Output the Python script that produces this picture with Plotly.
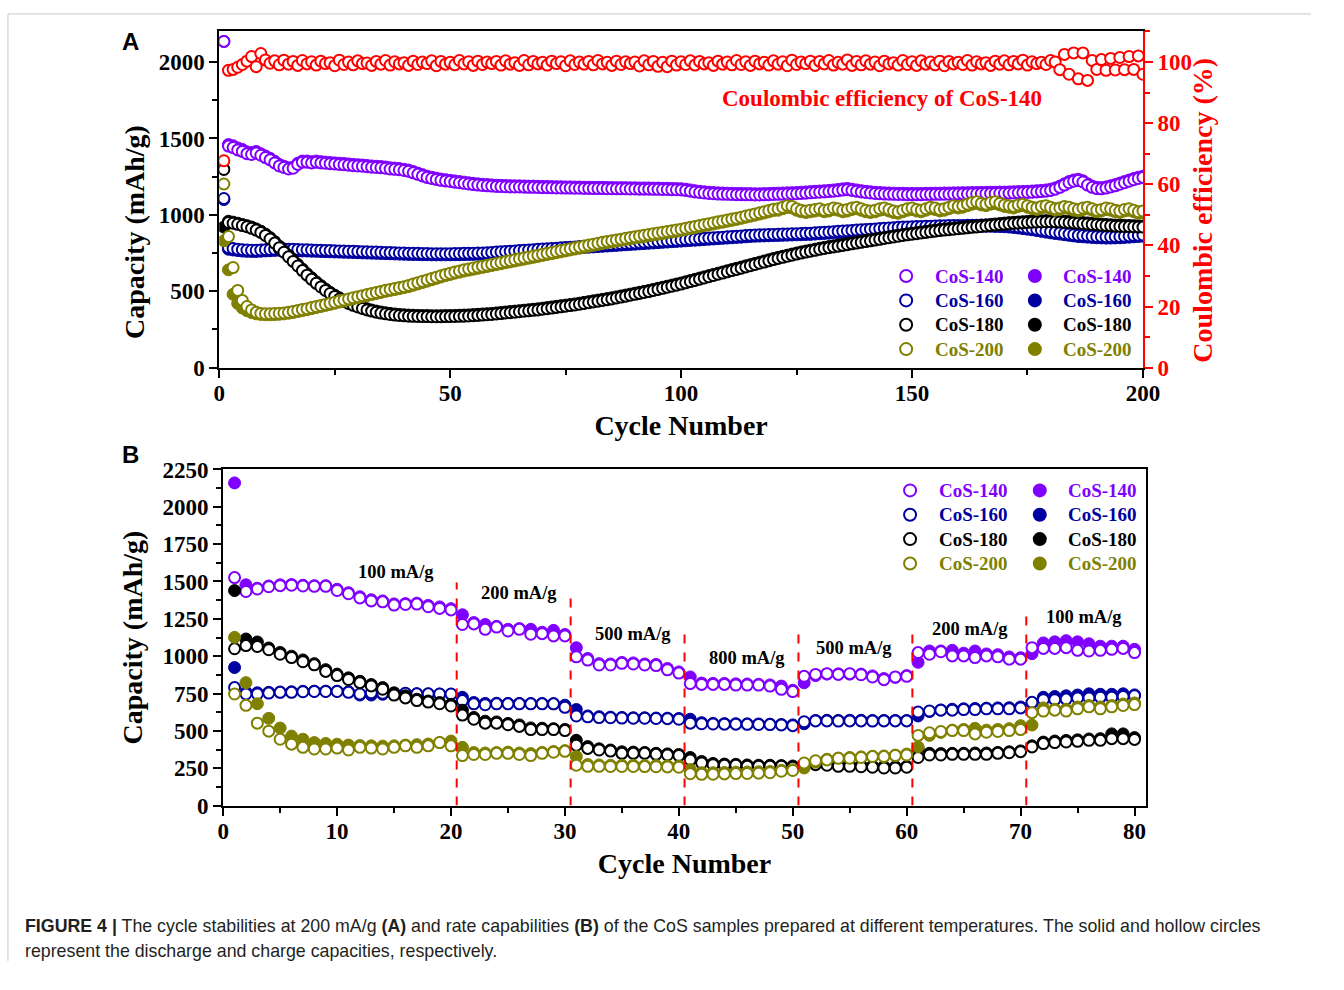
import plotly.graph_objects as go

# ---------------- Panel A data (cycling at 200 mA/g) ----------------
A_cycles = list(range(1, 201))

A_140_charge = [
    2135, 1450, 1440, 1425, 1415, 1400, 1395, 1405, 1390, 1375,
    1360, 1340, 1320, 1310, 1300, 1305, 1330, 1345, 1345, 1340,
    1345, 1340, 1338, 1335, 1333, 1330, 1328, 1325, 1322, 1320,
    1318, 1315, 1312, 1310, 1308, 1305, 1300, 1298, 1295, 1290,
    1285, 1275, 1265, 1255, 1245, 1238, 1232, 1226, 1222, 1218,
    1214, 1210, 1206, 1202, 1198, 1195, 1192, 1190, 1188, 1186,
    1185, 1184, 1183, 1182, 1182, 1181, 1180, 1180, 1179, 1178,
    1178, 1177, 1176, 1176, 1175, 1175, 1174, 1174, 1173, 1173,
    1172, 1172, 1172, 1171, 1171, 1170, 1170, 1170, 1169, 1169,
    1168, 1168, 1168, 1167, 1167, 1166, 1166, 1165, 1164, 1163,
    1160, 1155, 1150, 1146, 1143, 1140, 1138, 1136, 1135, 1134,
    1133, 1132, 1132, 1131, 1131, 1130, 1130, 1131, 1132, 1133,
    1134, 1135, 1136, 1137, 1138, 1140, 1142, 1144, 1146, 1148,
    1150, 1152, 1155, 1158, 1162, 1165, 1160, 1155, 1150, 1146,
    1143, 1140, 1138, 1136, 1135, 1134, 1133, 1133, 1132, 1132,
    1132, 1132, 1133, 1133, 1134, 1134, 1135, 1135, 1136, 1136,
    1137, 1137, 1138, 1138, 1139, 1139, 1140, 1140, 1141, 1141,
    1142, 1143, 1144, 1145, 1146, 1148, 1150, 1152, 1155, 1160,
    1168, 1180, 1195, 1210, 1220, 1225, 1215, 1195, 1180, 1172,
    1170, 1175, 1182, 1190, 1200, 1210, 1220, 1230, 1238, 1245]
A_140_discharge = [
    2135, 1460, 1452, 1438, 1428, 1412, 1408, 1415, 1400, 1385,
    1370, 1350, 1330, 1318, 1308, 1312, 1338, 1352, 1352, 1348,
    1352, 1348, 1345, 1342, 1340, 1338, 1336, 1333, 1330, 1328,
    1326, 1323, 1320, 1318, 1316, 1313, 1308, 1306, 1303, 1298,
    1293, 1283, 1273, 1263, 1253, 1246, 1240, 1234, 1230, 1226,
    1222, 1218, 1214, 1210, 1206, 1203, 1200, 1198, 1196, 1194,
    1193, 1192, 1191, 1190, 1190, 1189, 1188, 1188, 1187, 1186,
    1186, 1185, 1184, 1184, 1183, 1183, 1182, 1182, 1181, 1181,
    1180, 1180, 1180, 1179, 1179, 1178, 1178, 1178, 1177, 1177,
    1176, 1176, 1176, 1175, 1175, 1174, 1174, 1173, 1172, 1171,
    1168, 1163, 1158, 1154, 1151, 1148, 1146, 1144, 1143, 1142,
    1141, 1140, 1140, 1139, 1139, 1138, 1138, 1139, 1140, 1141,
    1142, 1143, 1144, 1145, 1146, 1148, 1150, 1152, 1154, 1156,
    1158, 1160, 1163, 1166, 1170, 1173, 1168, 1163, 1158, 1154,
    1151, 1148, 1146, 1144, 1143, 1142, 1141, 1141, 1140, 1140,
    1140, 1140, 1141, 1141, 1142, 1142, 1143, 1143, 1144, 1144,
    1145, 1145, 1146, 1146, 1147, 1147, 1148, 1148, 1149, 1149,
    1150, 1151, 1152, 1153, 1154, 1156, 1158, 1160, 1163, 1168,
    1176, 1188, 1203, 1218, 1228, 1233, 1223, 1203, 1188, 1180,
    1178, 1183, 1190, 1198, 1208, 1218, 1228, 1238, 1246, 1253]

A_160_charge = [
    1107, 785, 780, 775, 772, 770, 768, 768, 770, 772,
    773, 775, 776, 776, 775, 774, 773, 772, 771, 770,
    769, 768, 767, 766, 765, 764, 763, 762, 761, 760,
    759, 758, 757, 756, 755, 754, 753, 752, 751, 750,
    749, 748, 748, 747, 747, 746, 746, 746, 746, 746,
    747, 747, 748, 748, 749, 750, 751, 752, 754, 756,
    758, 760, 762, 764, 766, 768, 770, 772, 774, 776,
    778, 780, 782, 784, 786, 788, 790, 792, 794, 796,
    798, 800, 802, 804, 806, 808, 810, 812, 814, 816,
    818, 820, 822, 824, 826, 828, 830, 832, 834, 836,
    838, 840, 842, 844, 846, 848, 850, 852, 854, 856,
    858, 860, 862, 864, 866, 868, 869, 870, 871, 872,
    873, 874, 875, 876, 877, 878, 879, 880, 882, 884,
    886, 888, 890, 892, 894, 896, 898, 900, 902, 904,
    906, 908, 910, 912, 914, 916, 918, 920, 921, 922,
    923, 924, 925, 926, 927, 928, 929, 930, 930, 931,
    931, 932, 932, 932, 933, 933, 933, 932, 931, 930,
    928, 925, 922, 918, 914, 910, 905, 900, 895, 890,
    886, 882, 878, 874, 870, 866, 864, 862, 860, 858,
    857, 856, 856, 857, 858, 860, 862, 864, 866, 868]
A_160_discharge = [
    1100, 775, 770, 766, 763, 761, 760, 760, 762, 764,
    765, 767, 768, 768, 767, 766, 765, 764, 763, 762,
    761, 760, 759, 758, 757, 756, 755, 754, 753, 752,
    751, 750, 749, 748, 747, 746, 745, 744, 743, 742,
    741, 740, 740, 739, 739, 738, 738, 738, 738, 738,
    739, 739, 740, 740, 741, 742, 743, 744, 746, 748,
    750, 752, 754, 756, 758, 760, 762, 764, 766, 768,
    770, 772, 774, 776, 778, 780, 782, 784, 786, 788,
    790, 792, 794, 796, 798, 800, 802, 804, 806, 808,
    810, 812, 814, 816, 818, 820, 822, 824, 826, 828,
    830, 832, 834, 836, 838, 840, 842, 844, 846, 848,
    850, 852, 854, 856, 858, 860, 861, 862, 863, 864,
    865, 866, 867, 868, 869, 870, 871, 872, 874, 876,
    878, 880, 882, 884, 886, 888, 890, 892, 894, 896,
    898, 900, 902, 904, 906, 908, 910, 912, 913, 914,
    915, 916, 917, 918, 919, 920, 921, 922, 922, 923,
    923, 924, 924, 924, 925, 925, 925, 924, 923, 922,
    920, 917, 914, 910, 906, 902, 897, 892, 887, 882,
    878, 874, 870, 866, 862, 858, 856, 854, 852, 850,
    849, 848, 848, 849, 850, 852, 854, 856, 858, 860]

A_180_charge = [
    1297, 950, 945, 938, 930, 922, 912, 900, 885, 865,
    842, 815, 785, 755, 725, 695, 665, 635, 605, 578,
    552, 528, 505, 485, 466, 449, 434, 420, 408, 397,
    387, 378, 370, 363, 357, 352, 348, 344, 341, 339,
    337, 336, 335, 334, 334, 333, 333, 333, 334, 334,
    335, 336, 337, 338, 340, 342, 344, 346, 348, 351,
    354, 357, 360, 363, 366, 369, 372, 375, 378, 382,
    386, 390, 394, 398, 402, 406, 410, 415, 420, 425,
    430, 435, 440, 445, 450, 456, 462, 468, 474, 480,
    486, 492, 498, 505, 512, 519, 526, 533, 540, 547,
    555, 563, 571, 579, 587, 595, 603, 611, 619, 627,
    635, 643, 651, 659, 667, 675, 683, 691, 699, 707,
    715, 722, 729, 736, 743, 750, 756, 762, 768, 774,
    780, 785, 790, 795, 800, 805, 810, 815, 820, 825,
    830, 835, 840, 845, 850, 855, 860, 865, 869, 873,
    877, 881, 885, 889, 893, 897, 900, 903, 906, 909,
    912, 915, 918, 921, 924, 927, 930, 933, 936, 939,
    942, 944, 946, 948, 950, 952, 953, 954, 955, 955,
    954, 953, 951, 949, 947, 945, 942, 940, 937, 935,
    932, 930, 928, 926, 925, 924, 923, 922, 921, 920]
A_180_discharge = [
    920, 958, 952, 945, 937, 929, 920, 908, 893, 874,
    851, 825, 795, 765, 735, 705, 675, 645, 615, 588,
    561, 537, 514, 493, 474, 457, 441, 427, 415, 404,
    394, 385, 377, 370, 364, 359, 355, 351, 348, 346,
    344, 343, 342, 341, 341, 340, 340, 340, 341, 341,
    342, 343, 344, 345, 347, 349, 351, 353, 355, 358,
    361, 364, 367, 370, 373, 376, 379, 382, 385, 389,
    393, 397, 401, 405, 409, 413, 417, 422, 427, 432,
    437, 442, 447, 452, 457, 463, 469, 475, 481, 487,
    493, 499, 505, 512, 519, 526, 533, 540, 547, 554,
    562, 570, 578, 586, 594, 602, 610, 618, 626, 634,
    642, 650, 658, 666, 674, 682, 690, 698, 706, 714,
    722, 729, 736, 743, 750, 757, 763, 769, 775, 781,
    787, 792, 797, 802, 807, 812, 817, 822, 827, 832,
    837, 842, 847, 852, 857, 862, 867, 872, 876, 880,
    884, 888, 892, 896, 900, 904, 907, 910, 913, 916,
    919, 922, 925, 928, 931, 934, 937, 940, 943, 946,
    949, 951, 953, 955, 957, 959, 960, 961, 962, 962,
    961, 960, 958, 956, 954, 952, 949, 947, 944, 942,
    939, 937, 935, 933, 932, 931, 930, 929, 928, 927]

A_200_charge = [
    1202, 858, 655, 505, 440, 400, 378, 362, 355, 352,
    352, 354, 356, 358, 362, 368, 374, 380, 386, 393,
    400, 407, 414, 421, 428, 436, 443, 450, 457, 464,
    471, 478, 485, 492, 499, 506, 512, 518, 524, 530,
    538, 547, 556, 565, 574, 583, 592, 601, 610, 618,
    626, 633, 640, 646, 652, 658, 664, 670, 676, 682,
    688, 694, 700, 706, 712, 718, 724, 730, 736, 742,
    748, 754, 760, 766, 772, 778, 784, 790, 796, 802,
    808, 814, 820, 826, 831, 836, 841, 846, 851, 856,
    861, 866, 871, 876, 881, 886, 891, 896, 901, 906,
    912, 918, 924, 930, 936, 942, 948, 954, 960, 966,
    972, 978, 985, 992, 999, 1006, 1013, 1020, 1028, 1036,
    1040, 1050, 1060, 1055, 1040, 1030, 1025, 1030, 1035, 1040,
    1030, 1035, 1045, 1040, 1030, 1035, 1045, 1050, 1040, 1030,
    1025, 1030, 1040, 1045, 1035, 1025, 1020, 1030, 1040, 1045,
    1035, 1030, 1040, 1050, 1045, 1035, 1040, 1050, 1060, 1055,
    1060, 1070, 1080, 1085, 1075, 1070, 1080, 1085, 1075, 1065,
    1060, 1055, 1065, 1070, 1060, 1050, 1045, 1055, 1060, 1050,
    1040, 1045, 1055, 1050, 1040, 1035, 1045, 1050, 1040, 1030,
    1035, 1045, 1040, 1030, 1025, 1035, 1040, 1030, 1020, 1025]
A_200_discharge = [
    830, 640, 480, 420, 390, 372, 360, 352, 348, 346,
    346, 347, 349, 352, 356, 361, 367, 373, 379, 386,
    393, 400, 407, 414, 421, 429, 436, 443, 450, 457,
    464, 471, 478, 485, 492, 499, 505, 511, 517, 523,
    530, 539, 548, 557, 566, 575, 584, 593, 602, 610,
    618, 625, 632, 638, 644, 650, 656, 662, 668, 674,
    680, 686, 692, 698, 704, 710, 716, 722, 728, 734,
    740, 746, 752, 758, 764, 770, 776, 782, 788, 794,
    800, 806, 812, 818, 823, 828, 833, 838, 843, 848,
    853, 858, 863, 868, 873, 878, 883, 888, 893, 898,
    904, 910, 916, 922, 928, 934, 940, 946, 952, 958,
    964, 970, 977, 984, 991, 998, 1005, 1012, 1020, 1028,
    1030, 1040, 1048, 1045, 1030, 1020, 1015, 1020, 1025, 1030,
    1020, 1025, 1035, 1030, 1020, 1025, 1035, 1040, 1030, 1020,
    1015, 1020, 1030, 1035, 1025, 1015, 1010, 1020, 1030, 1035,
    1025, 1020, 1030, 1040, 1035, 1025, 1030, 1040, 1050, 1045,
    1050, 1060, 1070, 1075, 1065, 1060, 1070, 1075, 1065, 1055,
    1050, 1045, 1055, 1060, 1050, 1040, 1035, 1045, 1050, 1040,
    1030, 1035, 1045, 1040, 1030, 1025, 1035, 1040, 1030, 1020,
    1025, 1035, 1030, 1020, 1015, 1025, 1030, 1020, 1010, 1015]

A_140_CE = [
    67.7, 97.3, 97.6, 98.3, 99.2, 100.3, 101.8, 98.5, 102.8, 100.7,
    99.6, 100.4, 99.1, 100.6, 99.3, 100.2, 98.9, 100.5, 99.4, 100.1,
    99.0, 100.3, 99.5, 99.8, 98.8, 100.6, 99.2, 100.0, 99.1, 100.4,
    99.5, 99.7, 98.9, 100.2, 99.3, 100.5, 99.0, 100.1, 99.4, 99.8,
    98.9, 100.3, 99.2, 100.0, 99.5, 100.4, 98.8, 100.2, 99.3, 99.9,
    99.1, 100.5, 99.4, 100.1, 98.9, 100.3, 99.2, 100.0, 99.5, 100.2,
    99.0, 100.4, 99.3, 99.8, 98.9, 100.5, 99.1, 100.2, 99.4, 99.9,
    99.0, 100.3, 99.5, 100.1, 98.8, 100.4, 99.2, 100.0, 99.3, 100.2,
    99.1, 100.5, 99.4, 99.9, 98.9, 100.3, 99.2, 100.1, 99.5, 100.0,
    98.7, 100.4, 99.1, 100.2, 98.6, 99.9, 98.5, 100.3, 99.0, 100.1,
    99.2, 100.4, 99.0, 100.2, 99.4, 99.8, 98.9, 100.3, 99.3, 100.0,
    99.1, 100.5, 99.2, 100.1, 98.9, 100.3, 99.4, 99.9, 99.0, 100.4,
    99.3, 100.1, 98.8, 100.6, 99.2, 100.0, 99.5, 100.3, 98.9, 100.2,
    99.4, 100.5, 99.0, 99.9, 99.3, 100.7, 98.9, 100.2, 99.1, 100.4,
    99.3, 100.0, 98.8, 100.3, 99.4, 99.8, 99.0, 100.5, 99.2, 100.1,
    98.9, 100.4, 99.3, 100.0, 99.1, 100.3, 98.8, 100.2, 99.4, 99.9,
    99.2, 100.5, 99.0, 100.1, 99.4, 99.8, 98.9, 100.3, 99.3, 100.4,
    99.1, 100.2, 99.4, 100.6, 99.0, 100.1, 99.5, 99.9, 99.2, 100.5,
    100.0, 97.5, 102.5, 96.0, 103.0, 94.5, 103.0, 94.0, 100.5, 97.6,
    100.8, 97.3, 101.2, 97.4, 101.5, 97.5, 101.8, 97.6, 102.0, 96.0]

# ---------------- Panel B data (rate capability) ----------------
B_cycles = list(range(1, 81))

B_140_charge = [
    1526, 1433, 1450, 1465, 1472, 1475, 1470, 1468, 1468, 1440,
    1418, 1390, 1370, 1364, 1342, 1346, 1349, 1331, 1320, 1310,
    1212, 1216, 1180, 1195, 1169, 1180, 1147, 1151, 1136, 1136,
    996, 974, 941, 941, 952, 948, 941, 937, 909, 887,
    817, 811, 811, 811, 807, 807, 807, 800, 778, 763,
    865, 878, 883, 878, 883, 876, 861, 843, 861, 865,
    1024, 1013, 1030, 1002, 1002, 991, 1002, 996, 980, 980,
    1057, 1052, 1052, 1057, 1039, 1035, 1039, 1046, 1052, 1024]
B_140_discharge = [
    2160, 1478, 1455, 1470, 1478, 1480, 1475, 1472, 1472, 1448,
    1425, 1398, 1378, 1370, 1350, 1352, 1355, 1340, 1330, 1318,
    1277, 1225, 1212, 1200, 1180, 1185, 1180, 1160, 1173, 1145,
    1057, 985, 950, 948, 958, 955, 948, 945, 918, 895,
    861, 820, 818, 818, 815, 814, 812, 808, 800, 772,
    822, 870, 880, 882, 880, 880, 868, 850, 858, 870,
    959, 1035, 1035, 1039, 1020, 1035, 1015, 1010, 995, 990,
    1017, 1089, 1096, 1104, 1096, 1083, 1067, 1067, 1067, 1046]

B_160_charge = [
    790, 747, 747, 753, 758, 758, 762, 764, 764, 764,
    758, 747, 755, 752, 750, 752, 748, 748, 747, 747,
    703, 681, 675, 681, 681, 681, 681, 681, 681, 658,
    600, 594, 589, 588, 586, 585, 585, 583, 582, 578,
    552, 548, 546, 545, 545, 544, 543, 542, 540, 535,
    561, 567, 567, 566, 567, 567, 566, 567, 567, 567,
    626, 633, 639, 639, 643, 643, 648, 648, 648, 654,
    691, 709, 709, 713, 720, 720, 726, 726, 730, 735]
B_160_discharge = [
    924, 760, 755, 758, 760, 762, 765, 766, 766, 766,
    762, 740, 740, 745, 748, 750, 748, 747, 746, 745,
    725, 690, 684, 685, 684, 684, 683, 683, 682, 672,
    643, 600, 595, 592, 590, 588, 588, 586, 585, 583,
    578, 555, 550, 549, 548, 547, 546, 545, 543, 540,
    548, 570, 571, 570, 571, 571, 570, 570, 570, 570,
    600, 630, 640, 645, 648, 650, 652, 654, 655, 660,
    687, 725, 730, 735, 740, 748, 745, 745, 748, 741]

B_180_charge = [
    1050, 1071, 1065, 1043, 1013, 991, 963, 942, 898, 870,
    844, 823, 801, 779, 740, 721, 703, 693, 682, 667,
    606, 578, 552, 552, 541, 530, 509, 509, 509, 502,
    404, 383, 372, 365, 350, 350, 350, 343, 339, 335,
    306, 285, 274, 270, 270, 263, 263, 263, 263, 257,
    274, 274, 270, 263, 263, 260, 257, 252, 252, 257,
    322, 339, 339, 343, 343, 343, 343, 350, 354, 361,
    393, 415, 422, 426, 430, 437, 437, 448, 448, 443]
B_180_discharge = [
    1439, 1115, 1095, 1055, 1025, 1000, 975, 950, 910, 880,
    855, 832, 810, 790, 755, 735, 712, 700, 690, 678,
    638, 590, 565, 560, 550, 540, 520, 518, 515, 510,
    437, 395, 380, 372, 360, 358, 356, 350, 346, 342,
    322, 295, 282, 278, 276, 272, 270, 270, 268, 265,
    262, 280, 280, 275, 272, 268, 265, 262, 260, 262,
    383, 350, 348, 350, 350, 352, 352, 356, 360, 366,
    400, 425, 432, 436, 440, 446, 448, 480, 480, 455]

B_200_charge = [
    747, 671, 552, 498, 444, 411, 390, 379, 379, 385,
    372, 390, 385, 379, 390, 400, 390, 400, 422, 400,
    335, 342, 342, 350, 350, 342, 335, 350, 357, 363,
    270, 263, 263, 262, 262, 262, 261, 260, 259, 257,
    213, 209, 210, 212, 214, 215, 217, 220, 230, 235,
    285, 300, 306, 317, 317, 322, 328, 328, 335, 339,
    470, 487, 496, 502, 502, 480, 491, 496, 502, 509,
    622, 633, 639, 633, 648, 661, 648, 661, 670, 676]
B_200_discharge = [
    1126, 823, 682, 584, 519, 465, 444, 422, 416, 411,
    405, 402, 400, 398, 400, 405, 408, 412, 422, 432,
    390, 355, 352, 355, 358, 352, 348, 356, 362, 368,
    328, 275, 272, 270, 270, 270, 268, 268, 266, 265,
    241, 220, 220, 222, 224, 225, 226, 228, 236, 240,
    252, 290, 310, 318, 322, 326, 330, 332, 338, 345,
    393, 470, 490, 505, 510, 517, 505, 510, 515, 535,
    539, 654, 645, 645, 660, 670, 660, 670, 680, 687]

samples = ["CoS-140", "CoS-160", "CoS-180", "CoS-200"]
colors = ["#8000ff", "#0000a0", "#000000", "#808000"]

# rate-step annotations for panel B
rate_labels = ["100 mA/g", "200 mA/g", "500 mA/g", "800 mA/g", "500 mA/g", "200 mA/g", "100 mA/g"]
rate_label_x = [15.2, 26.0, 36.0, 46.0, 55.4, 65.6, 75.6]
rate_label_y = [1565, 1422, 1148, 985, 1057, 1180, 1265]
step_bounds = [20.5, 30.5, 40.5, 50.5, 60.5, 70.5]
step_tops = [1494, 1396, 1174, 1174, 1187, 1265]

A_charge = [A_140_charge, A_160_charge, A_180_charge, A_200_charge]
A_discharge = [A_140_discharge, A_160_discharge, A_180_discharge, A_200_discharge]
B_charge = [B_140_charge, B_160_charge, B_180_charge, B_200_charge]
B_discharge = [B_140_discharge, B_160_discharge, B_180_discharge, B_200_discharge]

SERIF = "Liberation Serif, Times New Roman, serif"
# The page keeps the browser's default 8 px body margin, so the figure is sized to fit the
# 1344x990 window without overflowing; screen positions below are window pixels.
OFF = 8
W, H = 1344 - 2 * OFF, 990 - 2 * OFF


def px(x):
    return (x - OFF) / W


def py(y):
    return 1 - (y - OFF) / H


fig = go.Figure()


def hollow(col):
    return dict(symbol="circle", size=11, color="white", line=dict(color=col, width=2))


def solid(col):
    return dict(symbol="circle", size=12, color=col, line=dict(color=col, width=1))


for i in range(4):
    fig.add_trace(go.Scatter(x=A_cycles, y=A_discharge[i], mode="markers", marker=solid(colors[i]),
                             name=samples[i] + " discharge", showlegend=False, xaxis="x", yaxis="y"))
    fig.add_trace(go.Scatter(x=A_cycles, y=A_charge[i], mode="markers", marker=hollow(colors[i]),
                             name=samples[i] + " charge", showlegend=False, xaxis="x", yaxis="y"))
fig.add_trace(go.Scatter(x=A_cycles, y=A_140_CE, mode="markers", marker=hollow("#ff0000"),
                         name="CE CoS-140", showlegend=False, xaxis="x", yaxis="y2"))

for i in range(4):
    fig.add_trace(go.Scatter(x=B_cycles, y=B_discharge[i], mode="markers", marker=solid(colors[i]),
                             name=samples[i] + " discharge", showlegend=False, xaxis="x2", yaxis="y3"))
    fig.add_trace(go.Scatter(x=B_cycles, y=B_charge[i], mode="markers", marker=hollow(colors[i]),
                             name=samples[i] + " charge", showlegend=False, xaxis="x2", yaxis="y3"))

tickfont = dict(family=SERIF, size=23, color="black", weight="bold")
titlefont = dict(family=SERIF, size=28, color="black", weight="bold")
common = dict(showline=True, linewidth=2, linecolor="black", ticks="outside", ticklen=8,
              tickwidth=2, tickcolor="black", showgrid=False, zeroline=False, tickfont=tickfont)

fig.update_layout(
    width=W, height=H, margin=dict(l=0, r=0, t=0, b=0),
    paper_bgcolor="white", plot_bgcolor="white", showlegend=False,
    xaxis=dict(domain=[px(225), px(1165)], anchor="y", range=[0, 200], dtick=50, tick0=0,
               mirror=True, minor=dict(dtick=25, ticks="outside", ticklen=5, tickwidth=2, tickcolor="black"),
               ticklabelstandoff=-4,
               title=dict(text="Cycle Number", font=titlefont, standoff=10), **common),
    yaxis=dict(domain=[py(373), py(28)], anchor="x", range=[0, 2200], dtick=500, tick0=0,
               minor=dict(dtick=250, ticks="outside", ticklen=5, tickwidth=2, tickcolor="black"),
               **common),
    yaxis2=dict(overlaying="y", side="right", anchor="x", range=[0, 110], dtick=20, tick0=0,
                showline=True, linewidth=2, linecolor="#ff0000", ticks="outside", ticklen=8,
                tickwidth=2, tickcolor="#ff0000", showgrid=False, zeroline=False,
                minor=dict(dtick=10, ticks="outside", ticklen=5, tickwidth=2, tickcolor="#ff0000"),
                tickfont=dict(family=SERIF, size=23, color="#ff0000", weight="bold")),
    xaxis2=dict(domain=[px(229), px(1168)], anchor="y3", range=[0, 81], dtick=10, tick0=0,
                mirror=True, minor=dict(dtick=5, ticks="outside", ticklen=5, tickwidth=2, tickcolor="black"),
                ticklabelstandoff=-4,
                title=dict(text="Cycle Number", font=titlefont, standoff=10), **common),
    yaxis3=dict(domain=[py(822.5), py(477.5)], anchor="x2", range=[0, 2250], dtick=250, tick0=0,
                mirror=True, minor=dict(dtick=125, ticks="outside", ticklen=5, tickwidth=2, tickcolor="black"),
                title=dict(text="Capacity (mAh/g)", font=titlefont, standoff=12), **common),
)

# panel A axis titles (placed off-centre as in the original figure)
fig.add_annotation(x=px(138), y=py(234), xref="paper", yref="paper", text="Capacity (mAh/g)",
                   textangle=-90, showarrow=False, xanchor="center", yanchor="middle", font=titlefont)
fig.add_annotation(x=px(1226), y=py(211), xref="paper", yref="paper", text="Coulombic efficiency (%)",
                   textangle=-90, showarrow=False, xanchor="center", yanchor="middle",
                   font=dict(family=SERIF, size=28, color="#ff0000", weight="bold"))

# manual two-column legends (hollow = charge, solid = discharge)
legend_blocks = [
    # (hollow marker x, solid marker x, first row y, row step)
    (924, 1055, 279, 25),
    (928, 1060, 499, 25),
]
for hx, sx, y0, dy in legend_blocks:
    for i in range(4):
        yy = y0 + i * dy
        for mx, filled in ((hx, False), (sx, True)):
            fig.add_shape(type="circle", xref="paper", yref="paper", xsizemode="pixel", ysizemode="pixel",
                          xanchor=px(mx), yanchor=py(yy), x0=-6, x1=6, y0=-6, y1=6,
                          fillcolor=colors[i] if filled else "white",
                          line=dict(color=colors[i], width=2))
            fig.add_annotation(x=px(mx + 27), y=py(yy), xref="paper", yref="paper", xanchor="left",
                               yanchor="middle", showarrow=False, text=samples[i],
                               font=dict(family=SERIF, size=19, color=colors[i], weight="bold"))

# red dashed rate-step separators (panel B)
for xb, top in zip(step_bounds, step_tops):
    fig.add_shape(type="line", xref="x2", yref="y3", x0=xb, x1=xb, y0=0, y1=top,
                  line=dict(color="#ff0000", width=2, dash="dash"))

for t, xl, yl in zip(rate_labels, rate_label_x, rate_label_y):
    fig.add_annotation(x=xl, y=yl, xref="x2", yref="y3", text=t, showarrow=False,
                       font=dict(family=SERIF, size=18.5, color="black", weight="bold"))

fig.add_annotation(x=143.6, y=1760, xref="x", yref="y", text="Coulombic efficiency of CoS-140",
                   showarrow=False, font=dict(family=SERIF, size=23, color="#ff0000", weight="bold"))

# panel letters
for letter, yy in (("A", 38), ("B", 462)):
    fig.add_annotation(x=px(135), y=py(yy), xref="paper", yref="paper", text=letter, showarrow=False,
                       xanchor="center", yanchor="middle",
                       font=dict(family="Liberation Sans, Arial, sans-serif", size=24, color="black", weight="bold"))

# caption
cap_font = dict(family="Liberation Sans, Arial, sans-serif", size=17.8, color="#231f20")
fig.add_annotation(x=px(25), y=py(946), xref="paper", yref="paper", xanchor="left", yanchor="middle",
                   showarrow=False, font=cap_font,
                   text="<b>FIGURE 4 |</b> The cycle stabilities at 200 mA/g <b>(A)</b> and rate capabilities "
                        "<b>(B)</b> of the CoS samples prepared at different temperatures. The solid and hollow circles")
fig.add_annotation(x=px(25), y=py(972), xref="paper", yref="paper", xanchor="left", yanchor="middle",
                   showarrow=False, font=cap_font,
                   text="represent the discharge and charge capacities, respectively.")

# light page frame
fig.add_shape(type="line", xref="paper", yref="paper", x0=px(10), x1=1, y0=py(10), y1=py(10),
              line=dict(color="#c8c8c8", width=1))
fig.add_shape(type="line", xref="paper", yref="paper", x0=px(10), x1=px(10), y0=py(10), y1=0,
              line=dict(color="#c8c8c8", width=1))

fig.write_html("out.html")
